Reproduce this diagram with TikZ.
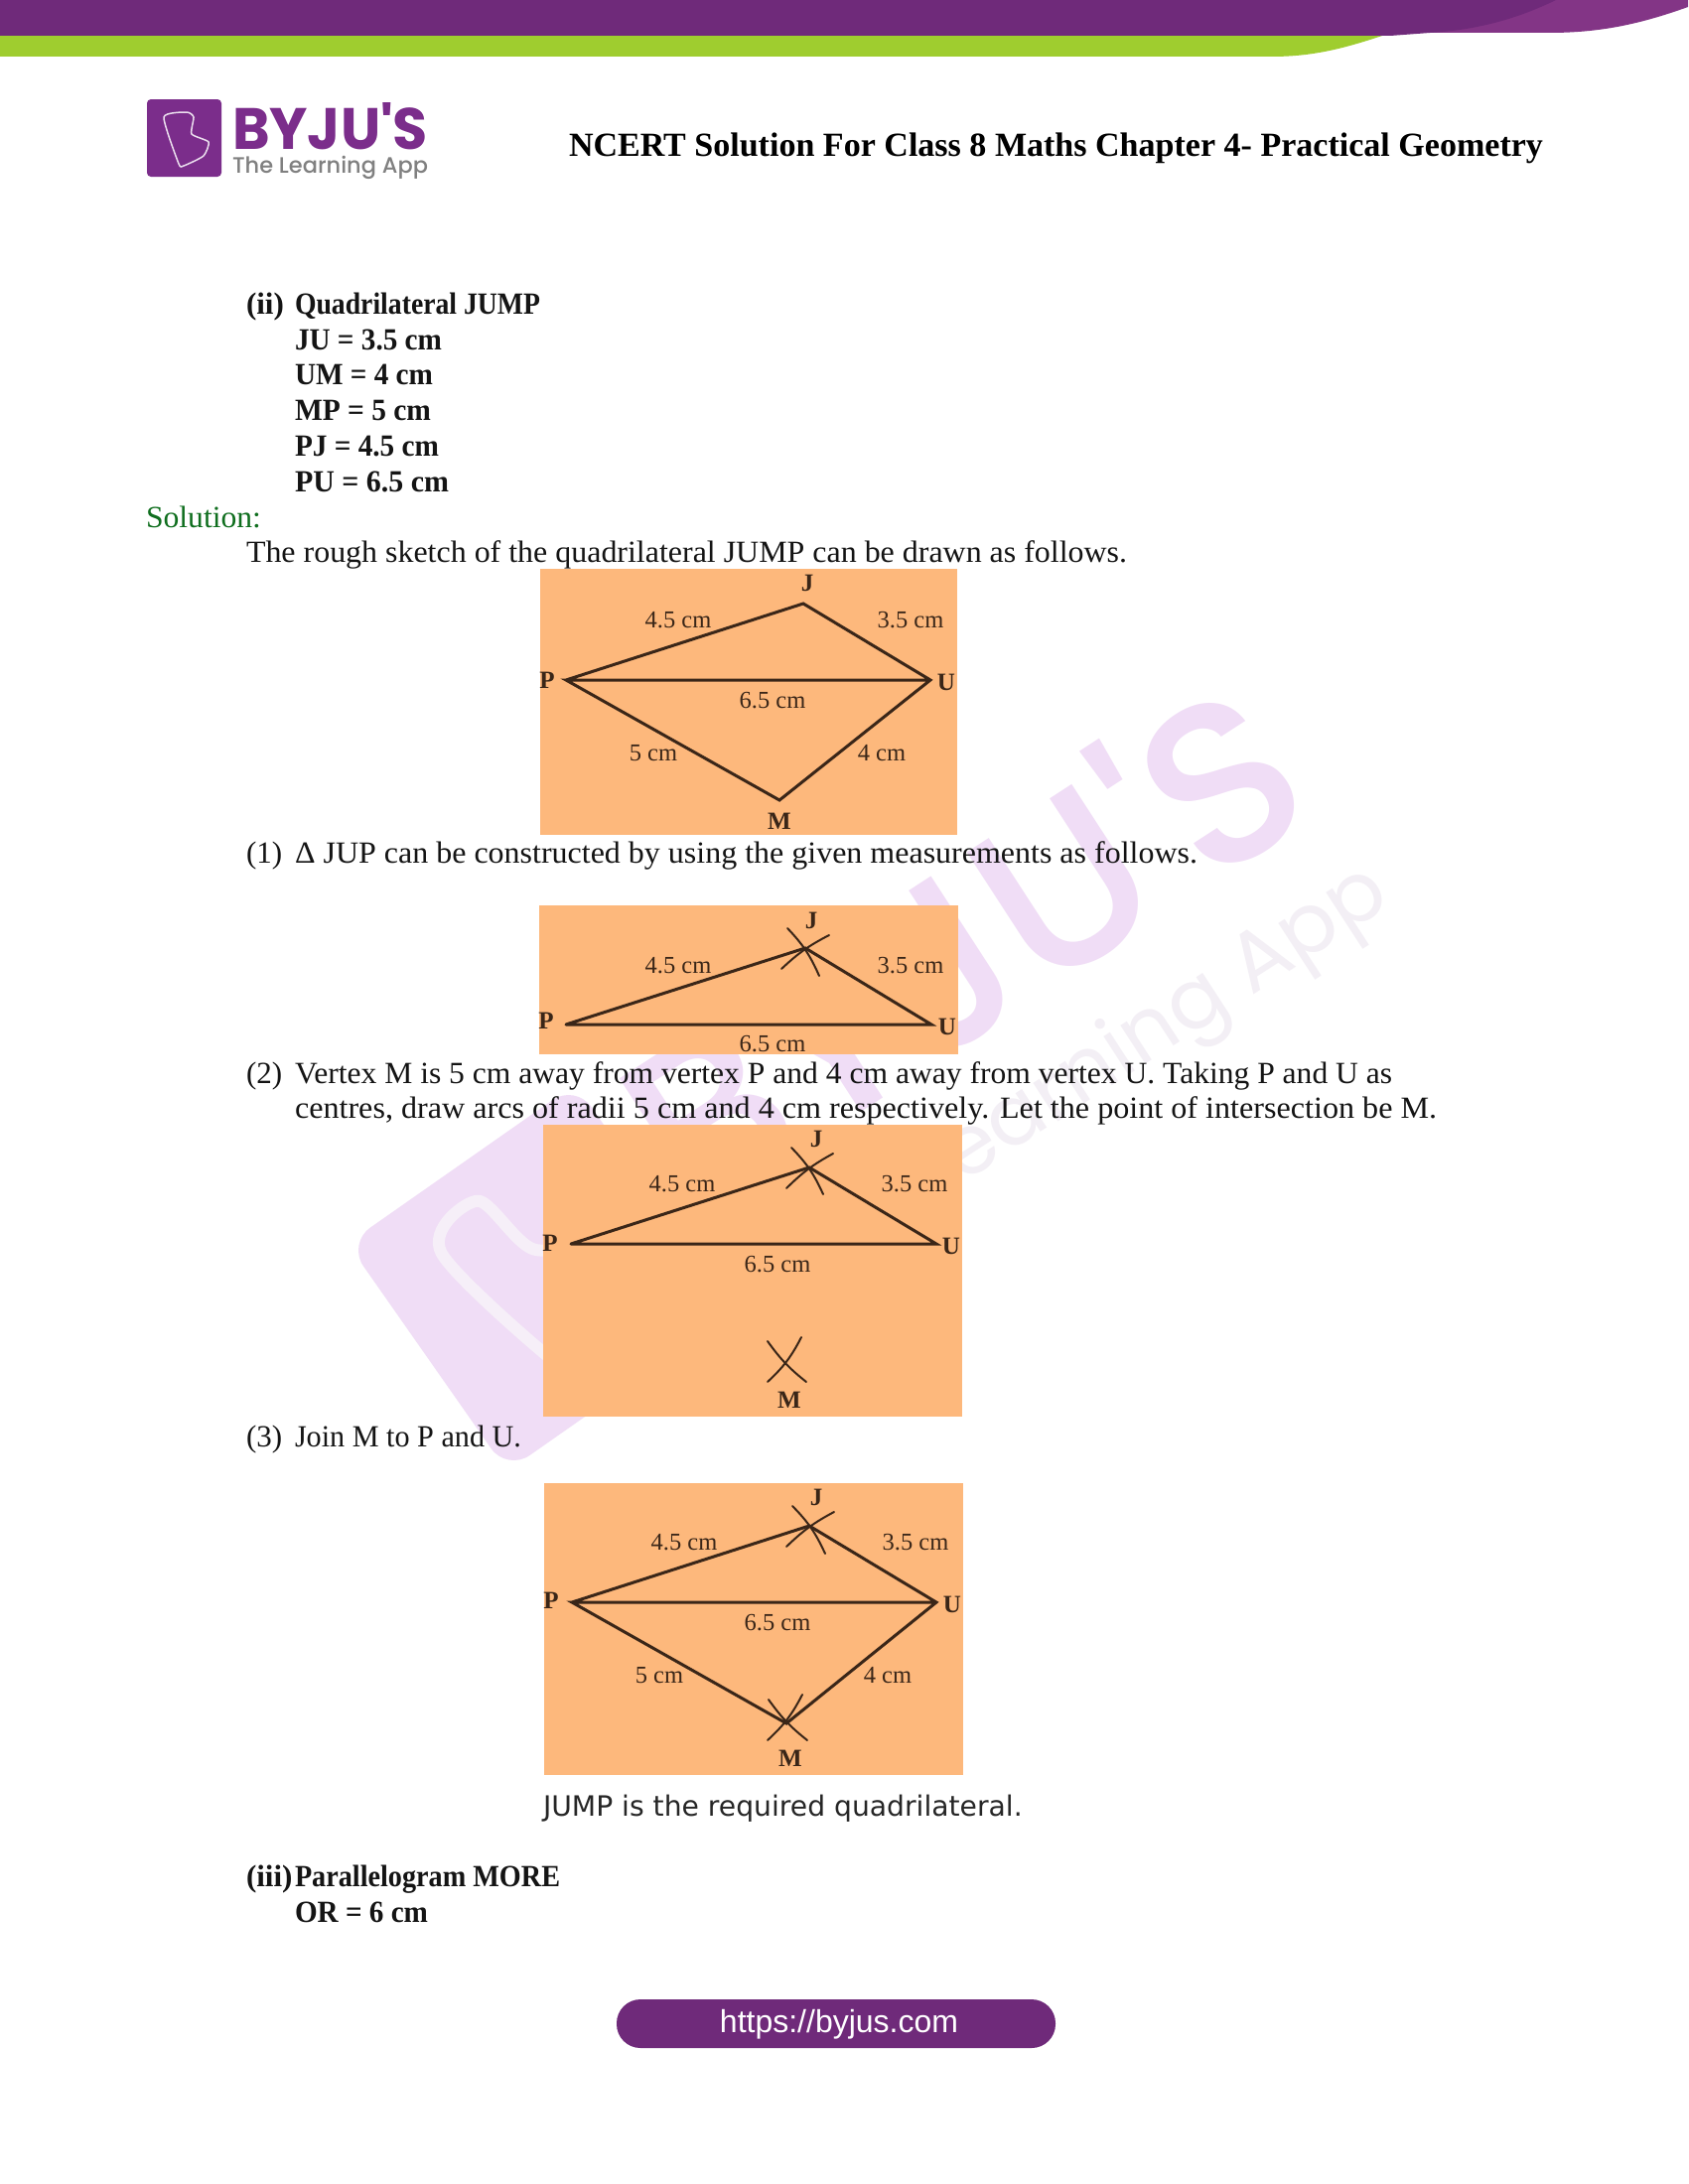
\documentclass[tikz,border=0pt]{standalone}
\usepackage{fontspec}
\setmainfont{Liberation Serif}
\newfontfamily\arial{Liberation Sans}
\newfontfamily\dejavu{DejaVu Sans}
\newfontfamily\popp{Poppins}
\newfontfamily\poppm{Poppins Medium}
\newcommand\fitw[2]{\resizebox{#1}{\height}{#2}}
\definecolor{deepv}{HTML}{6F2A7A}
\definecolor{midv}{HTML}{833586}
\definecolor{lime}{HTML}{9FCD2F}
\definecolor{logov}{HTML}{7B2D8B}
\definecolor{wmark}{HTML}{F0DDF6}
\definecolor{wmarkin}{HTML}{F6EFF8}
\definecolor{wgrey}{HTML}{F3EFF5}
\definecolor{panelc}{HTML}{FDB87C}
\definecolor{inkc}{HTML}{3A2618}
\definecolor{solg}{HTML}{0F6E1E}
\tikzset{
  x=1pt,y=-1pt,
  every node/.style={inner sep=0pt,outer sep=0pt},
  body/.style={anchor=base west,font=\fontsize{31}{36}\selectfont,text=black!92},
  bodyb/.style={body,font=\fontsize{31}{36}\selectfont\bfseries},
  panel/.style={fill=panelc,draw=none},
  edge/.style={draw=inkc,line width=3pt,line cap=round},
  arcm/.style={draw=inkc,line width=2pt,line cap=round},
  lab/.style={font=\fontsize{24.5}{26}\selectfont,text=inkc},
  vtx/.style={font=\fontsize{25}{26}\selectfont\bfseries,text=inkc},
}
\begin{document}
\begin{tikzpicture}
\useasboundingbox (0,0) rectangle (1700,2200);
\fill[white] (0,0) rectangle (1700,2200);
% watermark
\begin{scope}[shift={(545,1287)},rotate=35]
 \fill[wmark,rounded corners=28pt] (-140,-140) rectangle (140,140);
 \draw[wmarkin,line width=12pt,line join=round] plot[smooth cycle,tension=.5] coordinates {(-68,-78) (-8,-100) (10,-28) (75,12) (48,68) (-8,96) (-32,96)};
\end{scope}
\node[rotate=33,text=wmark] (wmtext) at (965,948) {\fontsize{232}{232}\poppm BYJU'S};
\node[rotate=33,anchor=east,text=wgrey] (wmtag) at (1392,893) {\fontsize{84}{84}\popp The Learning App};
% top band
\fill[lime] (0,36) -- (1392,36) .. controls (1350,50) and (1320,57) .. (1280,57) -- (0,57) -- cycle;
\fill[midv] (1300,0) -- (1700,0) -- (1700,7) .. controls (1650,25) and (1610,33) .. (1560,33) -- (1300,33) -- cycle;
\fill[deepv] (0,0) -- (1567,0) .. controls (1530,18) and (1490,30) .. (1440,33) -- (1400,36) -- (0,36) -- cycle;
% logo
\fill[logov,rounded corners=4pt] (148,100) rectangle (223,178);
\draw[white!85!logov,line width=1.5pt,line join=round] plot[smooth cycle,tension=.35] coordinates {(165,118) (188,113) (195,118) (193,135) (210,143) (205,157) (185,167) (180,165)};
\node[anchor=base west,text=logov] (logoname) at (234,150) {\resizebox{197pt}{47pt}{\popp\bfseries BYJU'S}};
\node[anchor=base west,text=black!50] (logotag) at (234,174) {\resizebox{197pt}{!}{\poppm The Learning App}};
\node[anchor=base west,font=\fontsize{33}{36}\selectfont\bfseries] (title) at (573,157) {\resizebox{981pt}{!}{NCERT Solution For Class 8 Maths Chapter 4- Practical Geometry}};
% text
\node[bodyb] (t1a) at (248,316) {(ii)};
\node[bodyb] (t1) at (297,316) {\fitw{247pt}{Quadrilateral JUMP}};
\node[bodyb] (t2) at (297,352) {\fitw{148pt}{JU = 3.5 cm}};
\node[bodyb] (t3) at (297,387) {\fitw{139pt}{UM = 4 cm}};
\node[bodyb] (t4) at (297,423) {\fitw{137pt}{MP = 5 cm}};
\node[bodyb] (t5) at (297,459) {\fitw{145pt}{PJ = 4.5 cm}};
\node[bodyb] (t6) at (297,495) {\fitw{155pt}{PU = 6.5 cm}};
\node[body,text=solg] (sol) at (147,531) {\fitw{116pt}{Solution:}};
\node[body] (t7) at (248,566) {\fitw{887pt}{The rough sketch of the quadrilateral JUMP can be drawn as follows.}};
\node[body] (s1n) at (248,869) {(1)};
\node[body] (s1) at (297,869) {\fitw{909pt}{Δ JUP can be constructed by using the given measurements as follows.}};
\node[body] (s2n) at (248,1091) {(2)};
\node[body] (s2) at (297,1091) {\fitw{1105pt}{Vertex M is 5 cm away from vertex P and 4 cm away from vertex U. Taking P and U as}};
\node[body] (s2b) at (297,1126) {\fitw{1150pt}{centres, draw arcs of radii 5 cm and 4 cm respectively. Let the point of intersection be M.}};
\node[body] (s3n) at (248,1457) {(3)};
\node[body] (s3) at (297,1457) {\fitw{228pt}{Join M to P and U.}};
\node[anchor=base west,font=\fontsize{28.2}{32}\dejavu,text=black!85] (concl) at (547,1829) {JUMP is the required quadrilateral.};
\node[bodyb] (t8a) at (248,1900) {(iii)};
\node[bodyb] (t8) at (297,1900) {\fitw{267pt}{Parallelogram MORE}};
\node[bodyb] (t9) at (297,1936) {\fitw{134pt}{OR = 6 cm}};
% footer
\fill[deepv,rounded corners=24pt] (621,2014) rectangle (1063,2063);
\node[text=white,font=\fontsize{32}{34}\arial] (url) at (845,2039) {https://byjus.com};
% panel 1
\fill[panel] (544,573) rectangle (964,841);
\coordinate (aJ) at (809,608); \coordinate (aP) at (570,685); \coordinate (aU) at (937,685); \coordinate (aM) at (785,806);
\draw[edge,line join=miter] (aP) -- (aJ) -- (aU) -- (aM) -- (aP) -- (aU);
\node[vtx] (alJ) at (813,587) {J}; \node[vtx] (alP) at (551,685) {P}; \node[vtx] (alU) at (953,687) {U}; \node[vtx] (alM) at (785,827) {M};
\node[lab] (a45) at (683,625) {4.5 cm}; \node[lab] (a35) at (917,625) {3.5 cm}; \node[lab] (a65) at (778,706) {6.5 cm}; \node[lab] (a5) at (658,759) {5 cm}; \node[lab] (a4) at (888,759) {4 cm};
% panel 2
\fill[panel] (543,912) rectangle (965,1062);
\coordinate (bJ) at (811,955); \coordinate (bP) at (570,1032); \coordinate (bU) at (938,1032);
\coordinate (bA1) at (793,935); \coordinate (bA2) at (825,983); \coordinate (bB1) at (787,976); \coordinate (bB2) at (835,942);
\draw[edge] (bP) -- (bJ) -- (bU) -- (bP);
\draw[arcm] (bA1) to[bend left=10] (bA2);
\draw[arcm] (bB1) to[bend left=8] (bB2);
\node[vtx] (blJ) at (817,927) {J}; \node[vtx] (blP) at (550,1028) {P}; \node[vtx] (blU) at (954,1034) {U};
\node[lab] (b45) at (683,973) {4.5 cm}; \node[lab] (b35) at (917,973) {3.5 cm}; \node[lab] (b65) at (778,1052) {6.5 cm};
% panel 3
\fill[panel] (547,1133) rectangle (969,1427);
\coordinate (cJ) at (815,1176); \coordinate (cP) at (575,1253); \coordinate (cU) at (943,1253);
\coordinate (cA1) at (797,1156); \coordinate (cA2) at (829,1203); \coordinate (cB1) at (792,1197); \coordinate (cB2) at (839,1162);
\coordinate (cC1) at (773,1351); \coordinate (cC2) at (812,1392); \coordinate (cD1) at (773,1392); \coordinate (cD2) at (807,1347);
\draw[edge] (cP) -- (cJ) -- (cU) -- (cP);
\draw[arcm] (cA1) to[bend left=10] (cA2);
\draw[arcm] (cB1) to[bend left=8] (cB2);
\draw[arcm] (cC1) to[bend right=8] (cC2);
\draw[arcm] (cD1) to[bend right=10] (cD2);
\node[vtx] (clJ) at (822,1147) {J}; \node[vtx] (clP) at (554,1252) {P}; \node[vtx] (clU) at (958,1255) {U}; \node[vtx] (clM) at (795,1410) {M};
\node[lab] (c45) at (687,1193) {4.5 cm}; \node[lab] (c35) at (921,1193) {3.5 cm}; \node[lab] (c65) at (783,1274) {6.5 cm};
% panel 4
\fill[panel] (548,1494) rectangle (970,1788);
\coordinate (dJ) at (815,1537); \coordinate (dP) at (576,1614); \coordinate (dU) at (943,1614); \coordinate (dM) at (792,1736);
\coordinate (dA1) at (798,1517); \coordinate (dA2) at (831,1565); \coordinate (dB1) at (792,1558); \coordinate (dB2) at (840,1523);
\coordinate (dC1) at (774,1712); \coordinate (dC2) at (813,1753); \coordinate (dD1) at (773,1753); \coordinate (dD2) at (808,1707);
\draw[edge] (dP) -- (dJ) -- (dU) -- (dM) -- (dP) -- (dU);
\draw[arcm] (dA1) to[bend left=10] (dA2);
\draw[arcm] (dB1) to[bend left=8] (dB2);
\draw[arcm] (dC1) to[bend right=8] (dC2);
\draw[arcm] (dD1) to[bend right=10] (dD2);
\node[vtx] (dlJ) at (822,1508) {J}; \node[vtx] (dlP) at (555,1612) {P}; \node[vtx] (dlU) at (959,1616) {U}; \node[vtx] (dlM) at (796,1771) {M};
\node[lab] (d45) at (689,1554) {4.5 cm}; \node[lab] (d35) at (922,1554) {3.5 cm}; \node[lab] (d65) at (783,1635) {6.5 cm}; \node[lab] (d5) at (664,1688) {5 cm}; \node[lab] (d4) at (894,1688) {4 cm};
\end{tikzpicture}
\end{document}
